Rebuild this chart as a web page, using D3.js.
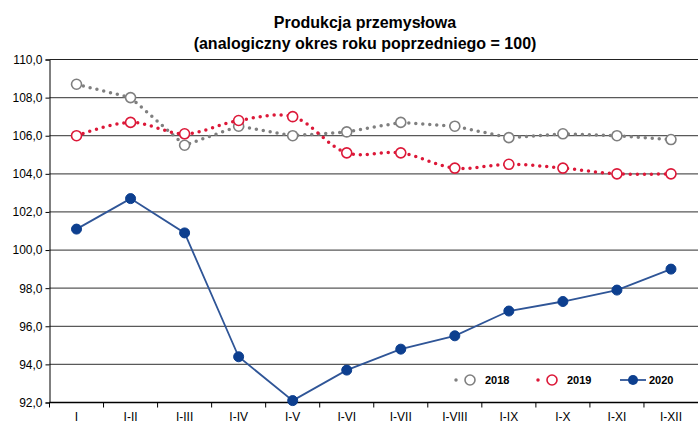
<!DOCTYPE html>
<html>
<head>
<meta charset="utf-8">
<script src="https://cdn.jsdelivr.net/npm/d3@7"></script>
<style>
  body { margin: 0; background: #fff; }
  text { font-family: "Liberation Sans Narrow", "Liberation Sans", Arial, sans-serif; }
</style>
</head>
<body>
<script>
// Categories and series
const categories = ["I", "I-II", "I-III", "I-IV", "I-V", "I-VI", "I-VII", "I-VIII", "I-IX", "I-X", "I-XI", "I-XII"];
const values2018 = [108.7, 108.0, 105.5, 106.5, 106.0, 106.2, 106.7, 106.5, 105.9, 106.1, 106.0, 105.8];
const values2019 = [106.0, 106.7, 106.1, 106.8, 107.0, 105.1, 105.1, 104.3, 104.5, 104.3, 104.0, 104.0];
const values2020 = [101.1, 102.7, 100.9, 94.4, 92.1, 93.7, 94.8, 95.5, 96.8, 97.3, 97.9, 99.0];
const yTicks = [92, 94, 96, 98, 100, 102, 104, 106, 108, 110];

const width = 698;
const height = 425;
const marginTop = 59.5;
const marginRight = 0;
const marginBottom = 22.5;
const marginLeft = 49.5;

const x = d3.scaleBand()
    .domain(categories)
    .range([marginLeft, width - marginRight]);

const y = d3.scaleLinear()
    .domain([92, 110])
    .range([height - marginBottom, marginTop]);

const svg = d3.select("body").append("svg")
    .attr("width", width)
    .attr("height", height);

// Title
const title = svg.append("text")
    .attr("x", 365)
    .attr("text-anchor", "middle")
    .attr("font-weight", "bold")
    .attr("font-size", 16);
title.append("tspan").attr("x", 365).attr("y", 28).text("Produkcja przemysłowa");
title.append("tspan").attr("x", 365).attr("y", 49).text("(analogiczny okres roku poprzedniego = 100)");

// Gridlines
svg.append("g")
    .selectAll("line")
    .data(yTicks.filter(d => d !== 92))
    .join("line")
    .attr("x1", marginLeft)
    .attr("x2", width)
    .attr("y1", d => y(d))
    .attr("y2", d => y(d))
    .attr("stroke", d => d === 110 ? "#222" : "#595959")
    .attr("stroke-width", 1.2);

// Y axis
svg.append("g")
    .attr("transform", `translate(${marginLeft},0)`)
    .call(d3.axisLeft(y).tickValues(yTicks).tickSize(4).tickFormat(d => d3.format(".1f")(d).replace(".", ",")))
    .call(g => g.select(".domain").attr("stroke", "#000"))
    .call(g => g.selectAll("text").attr("font-size", 12).attr("fill", "#000").attr("x", -7));

// X axis with ticks between categories
const xAxis = svg.append("g")
    .attr("transform", `translate(0,${height - marginBottom})`);
xAxis.append("line")
    .attr("x1", marginLeft).attr("x2", width)
    .attr("stroke", "#000").attr("stroke-width", 1.5);
xAxis.selectAll(".sep")
    .data(categories)
    .join("line")
    .attr("class", "sep")
    .attr("x1", d => x(d)).attr("x2", d => x(d))
    .attr("y1", 0).attr("y2", 5)
    .attr("stroke", "#000");
xAxis.selectAll(".lbl")
    .data(categories)
    .join("text")
    .attr("class", "lbl")
    .attr("x", d => x(d) + x.bandwidth() / 2)
    .attr("y", 18)
    .attr("text-anchor", "middle")
    .attr("font-size", 12)
    .text(d => d);

const cx = (d, i) => x(categories[i]) + x.bandwidth() / 2;

const series = [
    { name: "2018", values: values2018, color: "#7f7f7f", dotted: true, curve: d3.curveLinear },
    { name: "2019", values: values2019, color: "#dc1838", dotted: true, curve: d3.curveCatmullRom.alpha(0.5) },
    { name: "2020", values: values2020, color: "#2f5597", dotted: false, curve: d3.curveLinear }
];

series.forEach(s => {
    svg.append("path")
        .datum(s.values)
        .attr("fill", "none")
        .attr("stroke", s.color)
        .attr("stroke-width", s.dotted ? 3.5 : 1.8)
        .attr("stroke-linecap", "round")
        .attr("stroke-dasharray", s.dotted ? "0 7" : null)
        .attr("d", d3.line().x(cx).y(d => y(d)).curve(s.curve));
});

series.forEach(s => {
    svg.append("g")
        .selectAll("circle")
        .data(s.values)
        .join("circle")
        .attr("cx", cx)
        .attr("cy", d => y(d))
        .attr("r", s.dotted ? 5 : 5)
        .attr("fill", s.dotted ? "#fff" : "#0d3f8f")
        .attr("stroke", s.dotted ? s.color : "#0d3f8f")
        .attr("stroke-width", s.dotted ? 1.6 : 1);
});

// Legend
const legendX = [456, 538, 620];
const legendY = 380;
series.forEach((s, i) => {
    const g = svg.append("g").attr("transform", `translate(${legendX[i]},${legendY})`);
    if (s.dotted) {
        g.append("line")
            .attr("x1", 0).attr("x2", 28)
            .attr("stroke", s.color).attr("stroke-width", 3.5)
            .attr("stroke-linecap", "round").attr("stroke-dasharray", "0 14");
        g.append("circle").attr("cx", 14).attr("r", 5)
            .attr("fill", "#fff").attr("stroke", s.color).attr("stroke-width", 1.6);
    } else {
        g.append("line")
            .attr("x1", 0).attr("x2", 26)
            .attr("stroke", s.color).attr("stroke-width", 1.8);
        g.append("circle").attr("cx", 13).attr("r", 5).attr("fill", "#0d3f8f");
    }
    g.append("text")
        .attr("x", 29).attr("y", 4)
        .attr("font-size", 11)
        .attr("font-weight", "bold")
        .text(s.name);
});
</script>
</body>
</html>
